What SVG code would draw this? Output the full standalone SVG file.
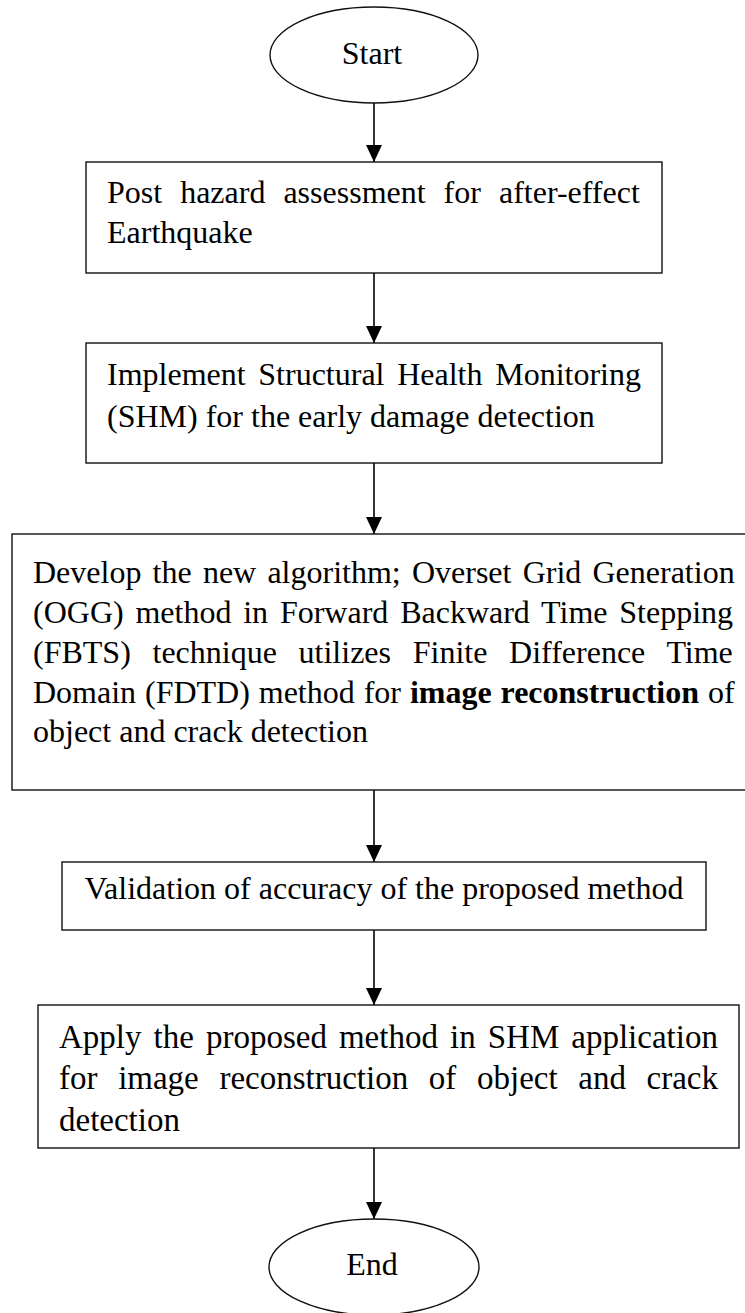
<svg xmlns="http://www.w3.org/2000/svg" width="745" height="1313" viewBox="0 0 745 1313">
  <style>
    .shape { fill: #ffffff; stroke: #111111; stroke-width: 1.4; }
    .label { font-family: "Liberation Serif", "Times New Roman", serif; font-size: 32px; fill: #000000; }
    .big { font-size: 33px; }
    .mid { text-anchor: middle; }
    .conn { stroke: #000000; stroke-width: 1.6; fill: none; marker-end: url(#arrow); }
  </style>
  <defs>
    <!-- solid triangular head, tip at the end of the line -->
    <marker id="arrow" markerUnits="userSpaceOnUse" markerWidth="17" markerHeight="16" viewBox="0 0 17 16" refX="17" refY="8" orient="auto">
      <path d="M0,0 L17,8 L0,16 Z" fill="#000000"/>
    </marker>
  </defs>
  <rect width="745" height="1313" fill="#ffffff"/>

  <!-- flow arrows -->
  <g id="connectors">
    <line class="conn" x1="374" y1="103" x2="374" y2="162"/>
    <line class="conn" x1="374" y1="273" x2="374" y2="343"/>
    <line class="conn" x1="374" y1="463" x2="374" y2="534"/>
    <line class="conn" x1="374" y1="790" x2="374" y2="862"/>
    <line class="conn" x1="374" y1="930" x2="374" y2="1005"/>
    <line class="conn" x1="374" y1="1148" x2="374" y2="1219"/>
  </g>

  <g id="start">
    <ellipse class="shape" cx="374" cy="55" rx="104" ry="48"/>
    <text class="label mid" x="372" y="64">Start</text>
  </g>

  <g id="post-hazard">
    <rect class="shape" x="86" y="162" width="576" height="111"/>
    <text class="label" x="107" y="203" word-spacing="10">Post hazard assessment for after-effect</text>
    <text class="label" x="107" y="243">Earthquake</text>
  </g>

  <g id="shm">
    <rect class="shape" x="86" y="343" width="576" height="120"/>
    <text class="label" x="107" y="385" word-spacing="4.7">Implement Structural Health Monitoring</text>
    <text class="label" x="107" y="427">(SHM) for the early damage detection</text>
  </g>

  <g id="algorithm">
    <rect class="shape" x="12" y="534" width="740" height="256"/>
    <text class="label" x="33" y="583" word-spacing="3.2">Develop the new algorithm; Overset Grid Generation</text>
    <text class="label" x="33" y="623" word-spacing="3.8">(OGG) method in Forward Backward Time Stepping</text>
    <text class="label" x="33" y="663" word-spacing="13.7">(FBTS) technique utilizes Finite Difference Time</text>
    <text class="label" x="33" y="703" word-spacing="0.9">Domain (FDTD) method for <tspan font-weight="bold">image reconstruction</tspan> of</text>
    <text class="label" x="33" y="742">object and crack detection</text>
  </g>

  <g id="validation">
    <rect class="shape" x="62" y="862" width="644" height="68"/>
    <text class="label mid" x="384" y="899">Validation of accuracy of the proposed method</text>
  </g>

  <g id="application">
    <rect class="shape" x="38" y="1005" width="701" height="143"/>
    <text class="label big" x="59" y="1048" word-spacing="3.8">Apply the proposed method in SHM application</text>
    <text class="label big" x="59" y="1089" word-spacing="12.4">for image reconstruction of object and crack</text>
    <text class="label big" x="59" y="1131">detection</text>
  </g>

  <g id="end">
    <ellipse class="shape" cx="374" cy="1267" rx="105" ry="48"/>
    <text class="label mid" x="372" y="1275">End</text>
  </g>
</svg>
